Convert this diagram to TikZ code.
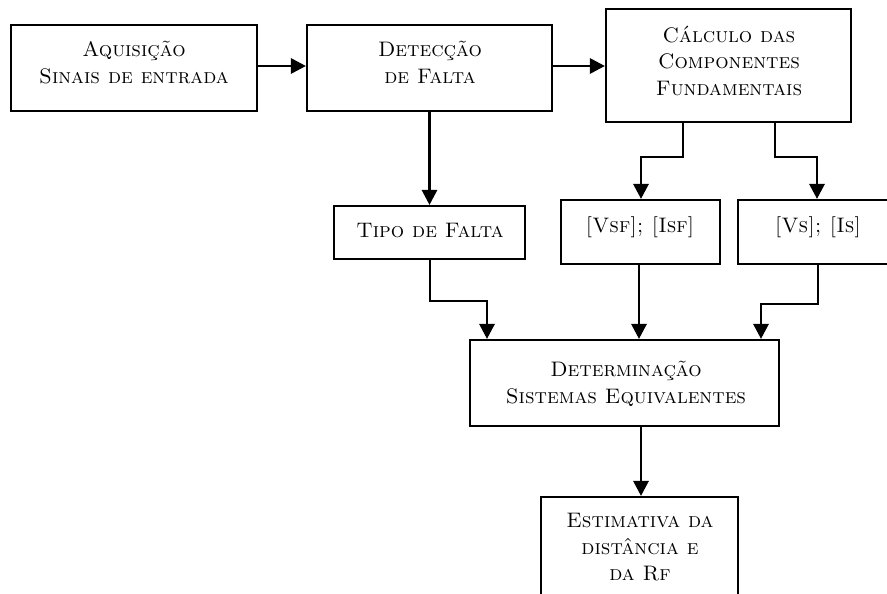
\documentclass[tikz,border=0pt]{standalone}
\usepackage{fontspec}
\usetikzlibrary{arrows.meta,calc}
\begin{document}
\begin{tikzpicture}[x=1pt,y=-1pt,
  box/.style={draw,line width=2.1pt,rectangle,inner sep=0pt},
  txt/.style={align=center,font=\fontsize{21}{26.5}\selectfont\scshape,inner sep=0pt},
  arr/.style={line width=2.9pt,-{Triangle[length=15pt,width=15pt]}}]
\useasboundingbox (0,0) rectangle (887,594);
% boxes
\node[box,minimum width=246pt,minimum height=86pt] (aq) at (134,68) {};
\node[box,minimum width=245pt,minimum height=86pt] (det) at (429.5,68) {};
\node[box,minimum width=245pt,minimum height=113pt] (cal) at (728.5,65.5) {};
\node[box,minimum width=191pt,minimum height=53pt] (tipo) at (429.5,232.5) {};
\node[box,minimum width=159pt,minimum height=64pt] (vsf) at (640.5,232) {};
\node[box,minimum width=160pt,minimum height=64pt] (vs) at (818,232) {};
\node[box,minimum width=309pt,minimum height=86pt] (deq) at (624.5,383) {};
\node[box,minimum width=197pt,minimum height=120pt] (est) at (639.5,557) {};
% texts
\node[txt] (taq) at (134,62.5) {Aquisição\\Sinais de entrada};
\node[txt] (tdet) at (430,62.5) {Detecção\\de Falta};
\node[txt] (tcal) at (729,60.5) {Cálculo das\\Componentes\\Fundamentais};
\node[txt] (ttipo) at (430,231) {Tipo de Falta};
\node[txt] (tvsf) at (640,227) {[Vsf]; [Isf]};
\node[txt] (tvs) at (818,227) {[Vs]; [Is]};
\node[txt] (tdeq) at (626,384) {Determinação\\Sistemas Equivalentes};
\node[txt] (test) at (640,547.5) {Estimativa da\\distância e\\da Rf};
% helper coordinates
\coordinate (y1) at (0,66);
\coordinate (c1) at (683,157);
\coordinate (c2) at (641,157);
\coordinate (c3) at (775,157);
\coordinate (c4) at (817,157);
\coordinate (t1) at (430,301);
\coordinate (t2) at (487,301);
\coordinate (v1) at (818,304);
\coordinate (v2) at (761,304);
% connectors
\draw[arr] (aq.east |- y1) -- (det.west |- y1);
\draw[arr] (det.east |- y1) -- (cal.west |- y1);
\draw[arr] (det.south) -- (tipo.north);
\draw[arr] (cal.south -| c1) -- (c1) -- (c2) -- (vsf.north -| c2);
\draw[arr] (cal.south -| c3) -- (c3) -- (c4) -- (vs.north -| c4);
\draw[arr] (tipo.south -| t1) -- (t1) -- (t2) -- (deq.north -| t2);
\draw[arr] (vsf.south -| 639,0) -- (deq.north -| 639,0);
\draw[arr] (vs.south -| v1) -- (v1) -- (v2) -- (deq.north -| v2);
\draw[arr] (deq.south -| 641,0) -- (est.north -| 641,0);
\end{tikzpicture}
\end{document}
